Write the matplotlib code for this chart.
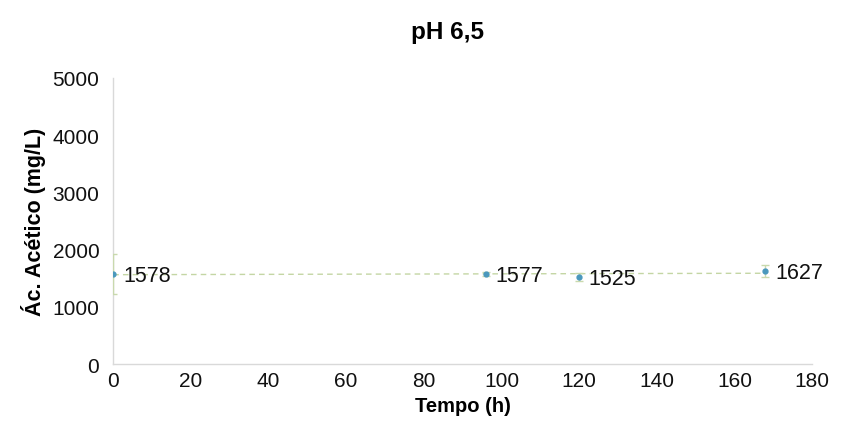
import numpy as np
import matplotlib.pyplot as plt

plt.rcParams['font.family'] = ['Liberation Sans', 'DejaVu Sans']

tempo = [0, 96, 120, 168]
acetico = [1578, 1577, 1525, 1627]
erro = [350, 30, 75, 110]
labels = ["1578", "1577", "1525", "1627"]

fig = plt.figure(figsize=(8.45, 4.27), dpi=100)
ax = fig.add_axes([0.134, 0.145, 0.827, 0.670])

# linear trendline (excel-style)
coef = np.polyfit(tempo, acetico, 1)
xt = np.array([tempo[0], tempo[-1]])
ax.plot(xt, np.polyval(coef, xt), linestyle=(0, (4, 3)), color="#c4d6a4", linewidth=1.0, zorder=1)

ax.errorbar(tempo, acetico, yerr=erro, fmt="o", color="#4a98bd", markersize=3.5,
            ecolor="#c9d9ad", elinewidth=1.0, capsize=3, capthick=1.0, zorder=3)

for x, y, lab in zip(tempo, acetico, labels):
    ax.annotate(lab, (x, y), xytext=(7, -1), textcoords="offset points",
                ha="left", va="center", fontsize=15.5, color="#111111")

ax.set_xlim(0, 180)
ax.set_ylim(0, 5000)
ax.set_xticks(range(0, 181, 20))
ax.set_yticks(range(0, 5001, 1000))
ax.tick_params(length=0, labelsize=15, colors="#111111")
ax.tick_params(axis="y", pad=10)
ax.tick_params(axis="x", pad=5)

for s in ["top", "right"]:
    ax.spines[s].set_visible(False)
for s in ["left", "bottom"]:
    ax.spines[s].set_color("#d9d9d9")
    ax.spines[s].set_linewidth(1.0)

ax.set_xlabel("Tempo (h)", fontsize=14.5, fontweight="bold", labelpad=4)
ax.set_ylabel("Ác. Acético (mg/L)", fontsize=15.5, fontweight="bold", labelpad=5)
fig.suptitle("pH 6,5", fontsize=17.5, fontweight="bold", x=0.53, y=0.95)

fig.savefig("out.png", dpi=100)
